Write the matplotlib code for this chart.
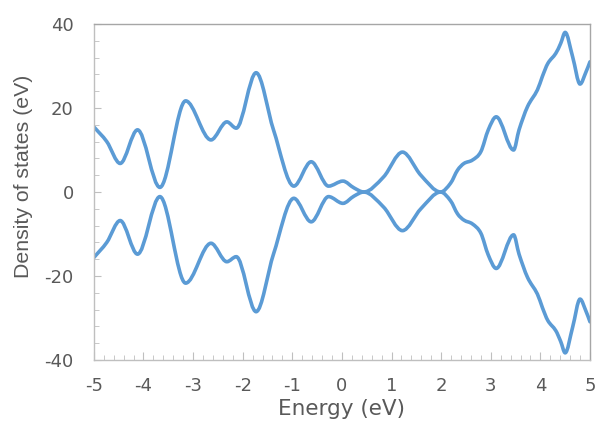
import matplotlib
matplotlib.use('Agg')
import matplotlib.pyplot as plt
from matplotlib.path import Path
from matplotlib.patches import PathPatch
from matplotlib.ticker import MultipleLocator

plt.rcParams['font.family'] = ['DejaVu Sans']
plt.rcParams['axes.unicode_minus'] = False

energy_up = [-5.0, -4.74, -4.47, -4.12, -3.67, -3.15, -2.64, -2.32, -2.13, -1.73,
             -1.38, -0.97, -0.62, -0.27, 0.02, 0.24, 0.44, 0.84, 1.22, 1.59,
             1.99, 2.19, 2.33, 2.46, 2.63, 2.80, 2.95, 3.11, 3.46, 3.57,
             3.74, 3.94, 4.04, 4.15, 4.31, 4.41, 4.50, 4.65, 4.80, 4.92, 5.0]
dos_up = [15.5, 12.0, 6.8, 14.8, 1.1, 21.7, 12.4, 16.7, 15.2, 28.4,
          14.8, 1.4, 7.2, 1.4, 2.6, 1.0, 0.0, 3.6, 9.5, 4.0,
          0.0, 2.1, 5.2, 6.8, 7.6, 9.6, 14.8, 17.9, 10.0, 14.8,
          20.3, 24.3, 27.5, 30.6, 33.0, 35.4, 38.0, 32.2, 25.7, 28.6, 31.0]

energy_down = [-5.0, -4.74, -4.47, -4.12, -3.67, -3.15, -2.64, -2.32, -2.13, -1.73,
               -1.38, -0.97, -0.62, -0.27, 0.02, 0.24, 0.44, 0.84, 1.22, 1.59,
               1.99, 2.19, 2.33, 2.46, 2.63, 2.80, 2.95, 3.11, 3.46, 3.57,
               3.74, 3.94, 4.04, 4.15, 4.31, 4.41, 4.50, 4.65, 4.80, 4.92, 5.0]
dos_down = [-15.6, -12.0, -6.8, -14.8, -1.1, -21.7, -12.2, -16.6, -15.4, -28.5,
            -14.8, -1.5, -7.1, -1.1, -2.7, -1.0, 0.0, -3.6, -9.2, -4.0,
            0.0, -2.1, -5.2, -6.7, -7.6, -9.8, -15.0, -18.2, -10.2, -14.8,
            -20.3, -24.3, -27.5, -30.6, -33.0, -35.6, -38.3, -32.2, -25.5, -28.4, -30.9]

line_color = '#5B9BD5'
grey = '#595959'


def smooth_path(xs, ys):
    # smoothed line drawn as cubic Bezier segments (Hermite tangents in x)
    n = len(xs)
    slopes = []
    for i in range(n):
        if i == 0:
            m = (ys[1] - ys[0]) / (xs[1] - xs[0])
        elif i == n - 1:
            m = (ys[-1] - ys[-2]) / (xs[-1] - xs[-2])
        elif (ys[i] - ys[i - 1]) * (ys[i + 1] - ys[i]) <= 0:
            m = 0.0  # flat at peaks and dips
        else:
            m = (ys[i + 1] - ys[i - 1]) / (xs[i + 1] - xs[i - 1])
        slopes.append(m)
    verts = [(xs[0], ys[0])]
    codes = [Path.MOVETO]
    for i in range(n - 1):
        h = xs[i + 1] - xs[i]
        verts += [(xs[i] + h / 3, ys[i] + slopes[i] * h / 3),
                  (xs[i + 1] - h / 3, ys[i + 1] - slopes[i + 1] * h / 3),
                  (xs[i + 1], ys[i + 1])]
        codes += [Path.CURVE4] * 3
    return Path(verts, codes)


fig = plt.figure(figsize=(5.98, 4.34), dpi=100)
ax = fig.add_axes([0.157, 0.1705, 0.8296, 0.7742])

for xs, ys in [(energy_up, dos_up), (energy_down, dos_down)]:
    ax.add_patch(PathPatch(smooth_path(xs, ys), fill=False, edgecolor=line_color,
                           linewidth=2.6, capstyle='round', joinstyle='round'))

ax.set_xlim(-5, 5)
ax.set_ylim(-40, 40)
ax.xaxis.set_major_locator(MultipleLocator(1))
ax.xaxis.set_minor_locator(MultipleLocator(0.2))
ax.yaxis.set_major_locator(MultipleLocator(20))
ax.yaxis.set_minor_locator(MultipleLocator(4))

for s in ax.spines.values():
    s.set_color('#BFBFBF')
    s.set_linewidth(1.0)
ax.spines['top'].set_color('#A6A6A6')
ax.spines['right'].set_color('#A6A6A6')

ax.tick_params(which='both', direction='in', color='#BFBFBF', labelcolor=grey,
               labelsize=13, top=False, right=False)
ax.tick_params(which='major', length=5)
ax.tick_params(which='minor', length=3.5)
ax.tick_params(axis='x', which='major', length=6)
ax.tick_params(axis='y', pad=14.5)
ax.tick_params(axis='x', pad=12.5)

ax.set_xlabel('Energy (eV)', fontsize=15.5, color=grey)
ax.set_ylabel('Density of states (eV)', fontsize=15.3, color=grey,
              family=['Liberation Sans', 'DejaVu Sans'])
ax.xaxis.set_label_coords(0.5, -0.116)
ax.yaxis.set_label_coords(-0.122, 0.546)

fig.savefig('out.png', dpi=100)
